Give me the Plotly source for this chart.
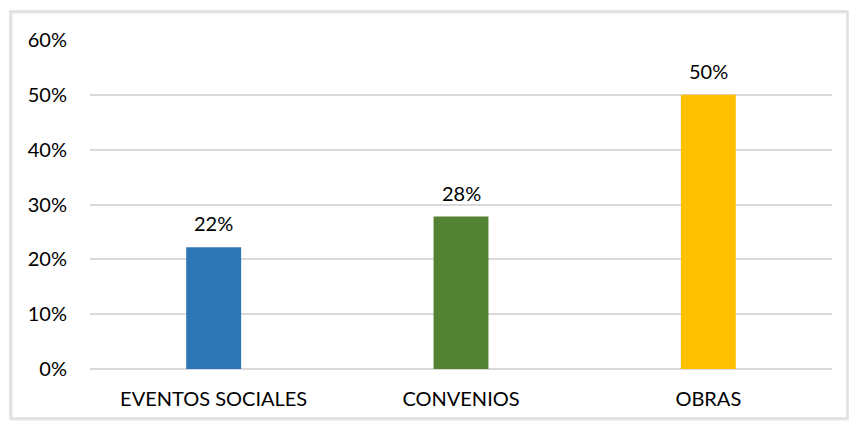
import plotly.graph_objects as go

categories = ["EVENTOS SOCIALES", "CONVENIOS", "OBRAS"]
shares = [0.222, 0.278, 0.50]
bar_colors = ["#2E75B6", "#548235", "#FFC000"]
y_ticks = [0, 0.1, 0.2, 0.3, 0.4, 0.5, 0.6]

W, H = 849, 421
L, R, T, B = 90, 17, 40, 52
pw, ph = W - L - R, H - T - B
FONT = "Lato, Open Sans, sans-serif"


def px_x(x):
    return (x - L) / pw


def px_y(y):
    return (H - B - y) / ph


fig = go.Figure(
    go.Bar(
        x=categories,
        y=shares,
        marker=dict(color=bar_colors, line=dict(width=0)),
        hoverinfo="x+y",
    )
)

# value labels floating above each bar
for cat, val in zip(categories, shares):
    fig.add_annotation(x=cat, y=val, text=f"{val:.0%}", showarrow=False,
                       yanchor="bottom", yshift=10,
                       font=dict(family=FONT, size=20, color="#000000"))

# chart frame with a soft shadow on the left edge
fig.add_shape(type="rect", xref="paper", yref="paper",
              x0=px_x(11), x1=px_x(848), y0=px_y(419), y1=px_y(12),
              line=dict(color="#e6e6e6", width=3), layer="below")
fig.add_shape(type="rect", xref="paper", yref="paper",
              x0=px_x(10), x1=px_x(847), y0=px_y(418), y1=px_y(11),
              line=dict(color="#d9d9d9", width=1), layer="below")

fig.update_layout(
    width=W, height=H,
    margin=dict(l=L, r=R, t=T, b=B),
    paper_bgcolor="white", plot_bgcolor="white",
    font=dict(family=FONT, size=20, color="#000000"),
    bargap=0.778,
    showlegend=False,
    xaxis=dict(showgrid=False, showline=False, ticks="",
               tickfont=dict(size=20), ticklabelstandoff=16),
    yaxis=dict(range=[0, 0.6], tickvals=y_ticks, tickformat=".0%",
               showgrid=True, gridcolor="#d9d9d9", gridwidth=1.5,
               zeroline=True, zerolinecolor="#d9d9d9", zerolinewidth=1.5,
               showline=False, ticks="", ticklabelstandoff=22,
               tickfont=dict(size=20)),
)

fig.write_html("out.html")
